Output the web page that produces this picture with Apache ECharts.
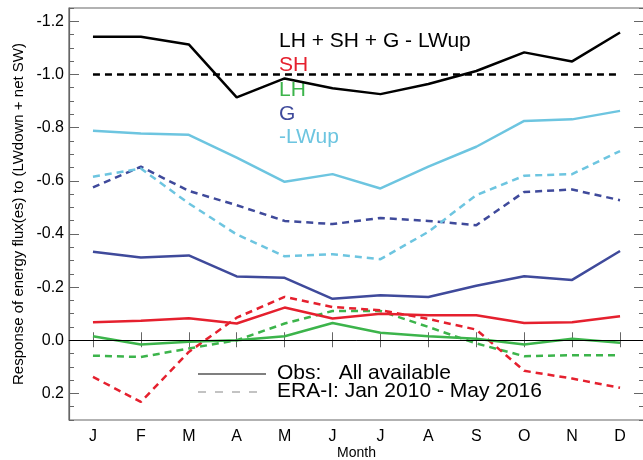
<!DOCTYPE html>
<html>
<head>
<meta charset="utf-8">
<script src="https://cdn.jsdelivr.net/npm/echarts@6.0.0/dist/echarts.min.js"></script>
<style>
  html, body { margin: 0; padding: 0; background: #fff; }
  #chart { width: 643px; height: 460px; }
</style>
</head>
<body>
<div id="chart"></div>
<script>
// months along x
const months = ['J', 'F', 'M', 'A', 'M', 'J', 'J', 'A', 'S', 'O', 'N', 'D'];

// y tick labels (axis is inverted, negative up)
const majorTicks = [-1.2, -1.0, -0.8, -0.6, -0.4, -0.2, 0.0, 0.2];
const minorTicks = [];
for (let i = -25; i <= 6; i++) minorTicks.push(+(i * 0.05).toFixed(2));

// Obs (solid)
const totalObs = [-1.142, -1.142, -1.113, -0.914, -0.985, -0.948, -0.926, -0.964, -1.013, -1.083, -1.049, -1.158];
const shObs = [-0.068, -0.073, -0.083, -0.063, -0.123, -0.082, -0.100, -0.094, -0.094, -0.065, -0.068, -0.090];
const lhObs = [-0.015, 0.016, 0.006, 0.0, -0.015, -0.065, -0.028, -0.015, -0.006, 0.016, -0.006, 0.009];
const gObs = [-0.333, -0.311, -0.319, -0.240, -0.235, -0.156, -0.169, -0.163, -0.205, -0.241, -0.227, -0.336];
const lwupObs = [-0.788, -0.778, -0.773, -0.687, -0.596, -0.625, -0.571, -0.653, -0.728, -0.825, -0.831, -0.863];

// ERA-I (dashed)
const totalEra = [-1.0, -1.0, -1.0, -1.0, -1.0, -1.0, -1.0, -1.0, -1.0, -1.0, -1.0, -1.0];
const shEra = [0.138, 0.232, 0.044, -0.085, -0.163, -0.125, -0.113, -0.080, -0.040, 0.115, 0.144, 0.179];
const lhEra = [0.058, 0.063, 0.031, 0.0, -0.063, -0.110, -0.110, -0.050, 0.012, 0.060, 0.056, 0.056];
const gEra = [-0.575, -0.653, -0.562, -0.508, -0.449, -0.437, -0.460, -0.449, -0.433, -0.558, -0.567, -0.527];
const lwupEra = [-0.615, -0.646, -0.515, -0.398, -0.316, -0.324, -0.305, -0.408, -0.546, -0.619, -0.625, -0.712];

const colors = {
  total: '#000000',
  sh: '#e5202e',
  lh: '#3cb44b',
  g: '#3f4a9b',
  lwup: '#6dc5e0'
};

const font = 'Liberation Sans, Arial, Helvetica, sans-serif';
const legendFont = '21px ' + font;

function line(name, data, color, dashed) {
  return {
    name: name,
    type: 'line',
    data: data,
    symbol: 'none',
    animation: false,
    silent: true,
    lineStyle: {
      color: color,
      width: 2.5,
      type: dashed ? [7, 5] : 'solid'
    }
  };
}

const yBase = {
  type: 'value',
  inverse: true,
  min: -1.25,
  max: 0.3,
  splitLine: { show: false }
};

function yTicks(len, values) {
  return { show: true, inside: true, length: len, customValues: values, lineStyle: { color: '#666', width: 1 } };
}

const chart = echarts.init(document.getElementById('chart'), null, { renderer: 'canvas' });

const option = {
  backgroundColor: '#fff',
  animation: false,
  grid: {
    left: 69,
    top: 8,
    width: 575,
    height: 412,
    show: true,
    borderColor: '#666',
    borderWidth: 1.2,
    containLabel: false,
    outerBoundsMode: 'none'
  },
  xAxis: [
    {
      type: 'category',
      data: months,
      position: 'bottom',
      boundaryGap: true,
      axisLine: { show: true, lineStyle: { color: '#666', width: 1.2 } },
      axisTick: { show: true, inside: true, length: 8, alignWithLabel: true, lineStyle: { color: '#666' } },
      axisLabel: { color: '#000', fontSize: 16, fontFamily: font, margin: 9 },
      name: 'Month',
      nameLocation: 'middle',
      nameGap: 26,
      nameMoveOverlap: false,
      nameTextStyle: { color: '#000', fontSize: 14, fontFamily: font }
    },
    {
      type: 'category',
      data: months,
      position: 'top',
      boundaryGap: true,
      axisLine: { show: false },
      axisTick: { show: true, inside: true, length: 7, alignWithLabel: true, lineStyle: { color: '#666' } },
      axisLabel: { show: false }
    }
  ],
  yAxis: [
    Object.assign({}, yBase, {
      position: 'left',
      axisLine: { show: true, lineStyle: { color: '#666', width: 1.2 } },
      axisTick: yTicks(10, majorTicks),
      axisLabel: {
        customValues: majorTicks,
        formatter: v => v.toFixed(1),
        color: '#000',
        fontSize: 16,
        fontFamily: font,
        margin: 5
      },
      name: 'Response of energy flux(es) to (LWdown + net SW)',
      nameLocation: 'middle',
      nameGap: 43,
      nameMoveOverlap: false,
      nameTextStyle: { color: '#000', fontSize: 15, fontFamily: font }
    }),
    Object.assign({}, yBase, {
      position: 'left',
      axisLine: { show: false },
      axisTick: yTicks(5, minorTicks),
      axisLabel: { show: false }
    }),
    Object.assign({}, yBase, {
      position: 'right',
      axisLine: { show: false },
      axisTick: yTicks(10, majorTicks),
      axisLabel: { show: false }
    }),
    Object.assign({}, yBase, {
      position: 'right',
      axisLine: { show: false },
      axisTick: yTicks(5, minorTicks),
      axisLabel: { show: false }
    })
  ],
  series: [
    Object.assign(line('zero', [], '#000', false), {
      markLine: {
        silent: true,
        symbol: 'none',
        label: { show: false },
        lineStyle: { color: '#000', width: 1, type: 'solid' },
        data: [{ yAxis: 0 }]
      }
    }),
    line('LH ERA', lhEra, colors.lh, true),
    line('SH ERA', shEra, colors.sh, true),
    line('G ERA', gEra, colors.g, true),
    line('-LWup ERA', lwupEra, colors.lwup, true),
    line('Total ERA', totalEra, colors.total, true),
    line('LH', lhObs, colors.lh, false),
    line('SH', shObs, colors.sh, false),
    line('G', gObs, colors.g, false),
    line('-LWup', lwupObs, colors.lwup, false),
    line('LH + SH + G - LWup', totalObs, colors.total, false)
  ],
  graphic: [
    { type: 'text', left: 279, top: 31, style: { text: 'LH + SH + G - LWup', fill: colors.total, font: legendFont } },
    { type: 'text', left: 279, top: 55, style: { text: 'SH', fill: colors.sh, font: legendFont } },
    { type: 'text', left: 279, top: 80, style: { text: 'LH', fill: colors.lh, font: legendFont } },
    { type: 'text', left: 279, top: 104, style: { text: 'G', fill: colors.g, font: legendFont } },
    { type: 'text', left: 279, top: 127, style: { text: '-LWup', fill: colors.lwup, font: legendFont } },
    { type: 'line', shape: { x1: 198, y1: 374, x2: 266, y2: 374 }, style: { stroke: '#000', lineWidth: 1.2 } },
    { type: 'line', shape: { x1: 198, y1: 392, x2: 266, y2: 392 }, style: { stroke: '#888', lineWidth: 1.2, lineDash: [8, 9] } },
    { type: 'text', left: 277, top: 363, style: { text: 'Obs:   All available', fill: '#000', font: legendFont } },
    { type: 'text', left: 277, top: 381, style: { text: 'ERA-I: Jan 2010 - May 2016', fill: '#000', font: legendFont } }
  ]
};

chart.setOption(option);
</script>
</body>
</html>
